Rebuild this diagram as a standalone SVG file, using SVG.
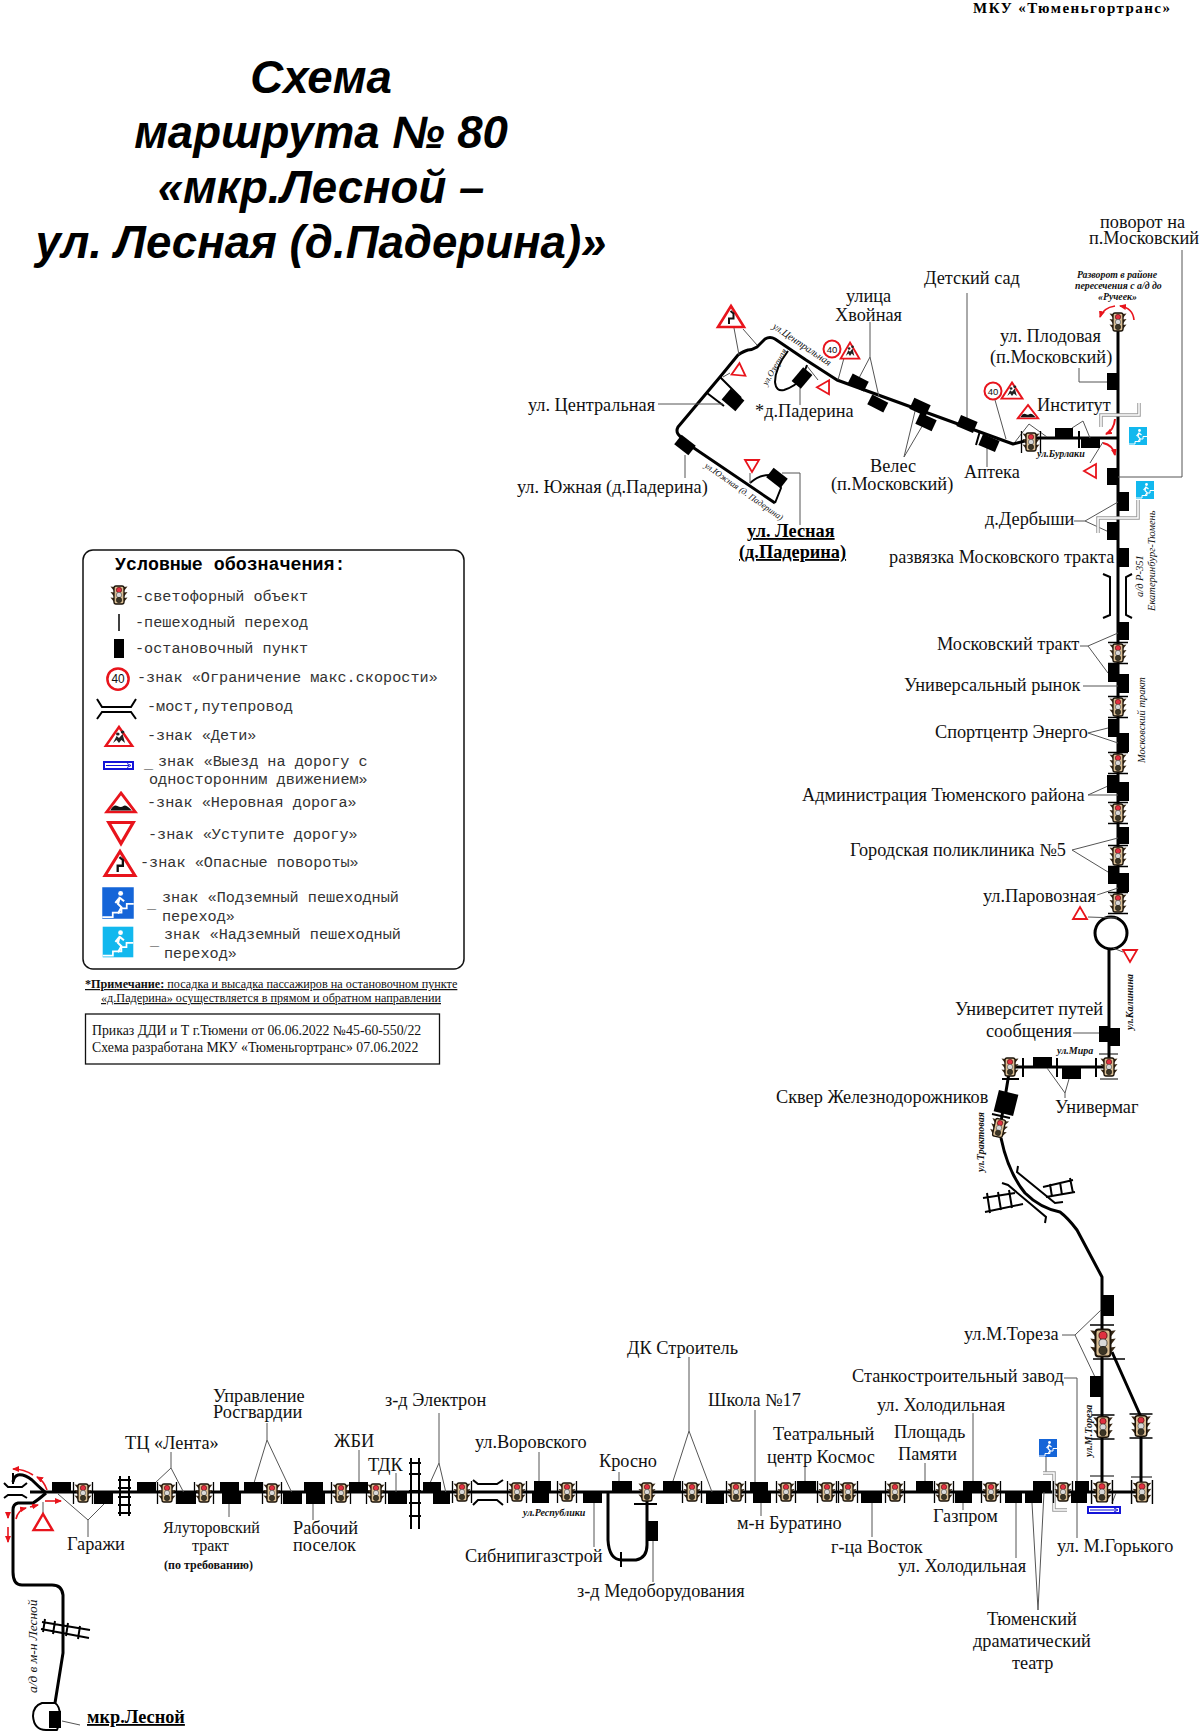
<svg xmlns="http://www.w3.org/2000/svg" xmlns:xlink="http://www.w3.org/1999/xlink" width="1200" height="1734" viewBox="0 0 1200 1734">
<style>
text{font-family:"Liberation Serif","Times New Roman",serif;font-size:18.3px;fill:#111}
.title{font-family:"Liberation Sans",Arial,sans-serif;font-size:45.6px;font-weight:bold;font-style:italic;text-anchor:middle;fill:#000}
.b{font-weight:bold;text-decoration:underline;fill:#000}
.st{font-style:italic;font-weight:bold;font-size:10px}
.tn{font-style:italic;font-weight:bold;font-size:9.8px}
.rt{font-style:italic;font-size:10px}
.rs{font-style:italic;font-size:8.8px}
.rv{font-style:italic;font-size:10.5px}
.lg{font-family:"Liberation Mono","Courier New",monospace;font-size:15.2px;fill:#333}
.lgt{font-family:"Liberation Mono","Courier New",monospace;font-size:18.3px;font-weight:bold;fill:#000}
.nt{font-size:12.2px}
.ord{font-size:13.8px}
.r{fill:none;stroke:#000;stroke-width:3;stroke-linejoin:round}
.r2{fill:none;stroke:#000;stroke-width:2;stroke-linejoin:round}
.t{fill:none;stroke:#000;stroke-width:2}
.l{fill:none;stroke:#555;stroke-width:1}
.u{fill:none;stroke:#999;stroke-width:3.5}
.ui{fill:none;stroke:#fff;stroke-width:1.5}
.ra{fill:none;stroke:#e8141c;stroke-width:1.6;marker-end:url(#ah)}
.s{fill:#000}
</style>
<defs>
<marker id="ah" markerWidth="8" markerHeight="8" refX="6" refY="3" orient="auto" markerUnits="userSpaceOnUse"><path d="M0 0L7 3L0 6z" fill="#e8141c"/></marker>
<g id="tl">
<path d="M-5-8L-8.5-8.5L-5-4zM5-8L8.5-8.5L5-4zM-5-2.5L-8.5-3L-5 1.5zM5-2.5L8.5-3L5 1.5zM-5 3L-8.5 2.5L-5 7zM5 3L8.5 2.5L5 7z" fill="#3a2a18"/>
<rect x="-5" y="-9" width="10" height="18" rx="2" fill="#d9bd92" stroke="#1a1208" stroke-width="1.3"/>
<circle cy="-5" r="2.7" fill="#e03040" stroke="#300" stroke-width=".5"/>
<circle cy="0" r="2.7" fill="#d8d8d8" stroke="#333" stroke-width=".5"/>
<circle cy="5" r="2.7" fill="#3c3524" stroke="#111" stroke-width=".5"/>
</g>
<g id="tlh"><use href="#tl"/><path d="M-9.5-11V11M9.5-11V11" stroke="#000" stroke-width="1.3"/></g>
<g id="tlv"><use href="#tl"/><path d="M-10-10.5H10M-10 10.5H10" stroke="#000" stroke-width="1.3"/></g>
<g id="y"><path d="M-7-6H7L0 6z" fill="#fff" stroke="#e8141c" stroke-width="1.8" stroke-linejoin="miter"/></g>
<g id="sp"><circle r="8.5" fill="#fff" stroke="#e8141c" stroke-width="2"/><text y="3.5" text-anchor="middle" style="font-family:'Liberation Sans',sans-serif;font-size:9.5px">40</text></g>
<g id="kids"><path d="M0-10L11 9H-11z" fill="#fff" stroke="#e8141c" stroke-width="2.2" stroke-linejoin="miter"/><path d="M-5 6L-2-1L0 1L3-3L5 6L2 3L0 6L-2 3z" fill="#222"/><circle cx="-1" cy="-3" r="1.5" fill="#222"/><circle cx="3" cy="-5" r="1.5" fill="#222"/></g>
<g id="bump"><path d="M0-10L12 9H-12z" fill="#fff" stroke="#e8141c" stroke-width="2.4"/><path d="M-9 7.500Q-6 1-3 3T2 3T9 7.500z" fill="#111"/></g>
<g id="curve"><path d="M0-11L13 10H-13z" fill="#fff" stroke="#e8141c" stroke-width="2.6"/><path d="M-2 7V1.500H2.500V-3.500L-.5-6" fill="none" stroke="#111" stroke-width="2"/></g>
<g id="ped"><rect x="-9" y="-9" width="18" height="18"/><circle cx="1.500" cy="-5.500" r="1.400" fill="#fff"/><path d="M1-3.500L0 .5L2 2.500L0 6M1-3L3.500-1M.5-2.500L-1.500 0" stroke="#fff" stroke-width="1.200" fill="none"/><path d="M-9 8H-3V5.500H2V3H5V.5H9" stroke="#fff" stroke-width="1" fill="none"/></g>
</defs>
<rect width="1200" height="1734" fill="#fff"/>

<g id="header">
<text x="973" y="13" textLength="197" style="font-weight:bold;font-size:15px;fill:#000">МКУ «Тюменьгортранс»</text>
<text class="title" x="321" y="93">Схема</text>
<text class="title" x="321" y="148">маршрута № 80</text>
<text class="title" x="321" y="203">«мкр.Лесной –</text>
<text class="title" x="321" y="258">ул. Лесная (д.Падерина)»</text>
</g>

<g id="connectors">
<g id="roads">
<path class="r" d="M1118 322V905"/>
<circle class="r" cx="1111" cy="933" r="16"/>
<path class="r" d="M1109 949V1067H1010L1000 1128"/>
<path class="r" d="M1001 1138Q1008 1172 1025 1193Q1040 1208 1060 1212Q1068 1218 1077 1230L1102 1277V1492"/>
<path class="r" d="M1112 1352L1141 1417V1492"/>
<path class="r" d="M1118 438H1037L1013 444L837 380L806 360L775 339Q770 336 765 339L757 347Q752 350 748 350Q744 351 738 355L720 377L678 427Q676 431 678 434L685 442L775 503"/>
<path class="r2" d="M775 503L781 488Q778 478 772 475Q760 474 750 483M720 377L741 398M707 393L724 406"/>
<path class="r2" d="M788 351Q775 368 775 382Q776 392 784 390Q796 386 802 378L807 365"/>
<path class="r" d="M30 1492H1142"/>
<path class="r" d="M46 1493Q38 1486 32 1480Q24 1474 18 1475Q14 1476 13 1482M46 1493Q38 1500 33 1503H18Q13 1504 13 1510V1572Q13 1585 22 1585H52Q62 1585 63 1595V1653L55 1703"/>
<path class="r2" d="M55 1703H42Q33 1706 33 1716Q34 1730 46 1730H57Q60 1722 60 1716Q60 1706 55 1703z"/>
<path class="r" d="M608 1492V1540Q609 1560 622 1560H636Q647 1558 647 1545V1500"/>
<path class="t" d="M621 1552V1567M634 1504H657"/>
<path class="t" d="M980 431L976 445M1079 431V448"/>
<path class="t" d="M1023 1058V1077M1057 1058V1077M1096 1058V1077M1002 1079H1019M992 1114L1010 1118"/>
<path class="t" d="M1103 574L1110 577V615L1103 618M1132 574L1126 577V615L1132 618"/>
<path class="t" d="M1018 1166L1017 1172L1055 1203L1063 1202M1002 1183L1008 1185L1046 1217L1045 1223"/>
<path class="t" d="M473 1480L478 1484H497L503 1480M473 1505L478 1500H497L503 1505"/>
<path class="t" d="M4 1483L8 1487H22L27 1483M4 1498L8 1495H22L27 1498M13 1473V1484"/>
<path class="t" d="M120 1476V1516M129 1476V1516M118 1480H131M118 1488H131M118 1497H131M118 1505H131M118 1513H131"/>
<path class="t" d="M411 1458V1529M419 1458V1529M409 1463H421M409 1474H421M409 1491H421M409 1503H421M409 1516H421"/>
<path class="t" d="M983 1198L1015 1193M985 1212L1023 1204M987 1193L990 1213M998 1192L1001 1210M1009 1190L1012 1208M1043 1187L1073 1180M1046 1197L1075 1192M1050 1184L1052 1197M1060 1182L1062 1195M1070 1178L1073 1193"/>
<path class="t" d="M42 1622L90 1630M41 1629L89 1638M45 1619L43 1632M55 1621L53 1634M68 1623L66 1636M80 1626L78 1639"/>
</g>
<g id="leaders">
<path class="l" d="M1182 250V477H1118M1079 368V382H1107"/>
<path class="l" d="M995 400L1006 439M1015 442L1029 424L1047 437M1083 421L1072 428M1083 421L1090 438M1090 463L1103 442"/>
<path class="l" d="M1074 521H1085L1118 502M1085 521L1109 532"/>
<path class="l" d="M1080 646H1088L1118 633M1088 646L1108 673M1083 686H1118M1088 733L1108 728M1088 733L1118 743M1088 795L1108 786M1088 795H1118M1072 850L1118 838M1072 850L1108 872M1097 895L1118 888M1088 917L1117 918M1113 948L1123 952"/>
<path class="l" d="M1073 1033H1099M1047 1068L1065 1093L1069 1079M1065 1093V1098"/>
<path class="l" d="M1062 1335H1075L1101 1310M1075 1335L1095 1377M1064 1378H1077V1538"/>
<path class="l" d="M973 1413V1482M925 1463V1482M963 1503V1510M872 1503V1537M1016 1503V1558M1032 1503L1038 1610L1044 1492M1046 1457V1472M1116 1493L1112 1503"/>
<path class="l" d="M689 1357V1431L673 1481M689 1431L712 1492M755 1410V1483M761 1503V1516M805 1467V1481M653 1541V1582M594 1503V1547M619 1472V1481M539 1452V1481"/>
<path class="l" d="M439 1413V1463L430 1483M439 1463L446 1493M396 1473V1493M359 1450V1483M313 1504V1520M267 1423V1440L254 1483M267 1440L292 1493M229 1504V1517M171 1452V1468L155 1483M171 1468L184 1493M88 1537V1520L58 1494M88 1520L104 1504M43 1502V1513M62 1721L80 1725"/>
<path class="l" d="M967 293V418M870 322V357L859 378M870 357L879 397M904 457L917 403M904 457L924 423M987 448V467M844 358L838 380M734 328L739 355M743 329L757 345M730 373L723 377M818 380L807 366M658 404H723M800 388V405M685 455V478M750 473V483M782 473H800V525"/>
<path class="u" d="M1101 427V415H1139V403"/><path class="ui" d="M1101 427V415H1139V403"/>
<path class="u" d="M1098 533V518H1138V500"/><path class="ui" d="M1098 533V518H1138V500"/>
<path class="u" d="M1043 1473H1054V1510H1067"/><path class="ui" d="M1043 1473H1054V1510H1067"/>
</g>
<g id="red-arrows">
<path class="ra" d="M1115 306Q1103 308 1100 317"/>
<path class="ra" d="M1134 320Q1133 308 1120 306"/>
<path class="ra" style="stroke-width:2" d="M1115 419Q1114 430 1106 434"/>
<path class="ra" style="stroke-width:2" d="M1103 443Q1113 445 1115 455"/>
<path class="ra" d="M33 1475Q24 1469 13 1469"/>
<path class="ra" d="M47 1490Q44 1481 37 1477"/>
<path class="ra" d="M16 1519Q18 1510 26 1508"/>
<path class="ra" d="M30 1507L38 1505"/>
<path class="ra" d="M45 1501H61"/>
<path class="ra" d="M8 1512V1518"/>
<path class="ra" d="M8 1527V1542"/>
</g>
</g>

<g id="legend">
<rect x="83" y="550" width="381" height="419" rx="10" fill="#fff" stroke="#111" stroke-width="1.5"/>
<text class="lgt" x="115" y="570">Условные обозначения:</text>
<use href="#tl" x="119" y="595"/><text class="lg" x="135" y="601">-светофорный объект</text>
<path d="M119 614V631" stroke="#000" stroke-width="1.5"/><text class="lg" x="135" y="627">-пешеходный переход</text>
<rect class="s" x="114" y="639" width="10" height="19"/><text class="lg" x="135" y="653">-остановочный пункт</text>
<use href="#sp" transform="translate(118 679) scale(1.25)"/><text class="lg" x="137" y="682">-знак «Ограничение макс.скорости»</text>
<path class="t" d="M97 699L102 707H131L136 699M97 719L102 712H131L136 719"/><text class="lg" x="147" y="711">-мост,путепровод</text>
<use href="#kids" transform="translate(119 737) scale(1.2 1)"/><text class="lg" x="147" y="740">-знак «Дети»</text>
<rect x="104" y="762" width="29" height="7" fill="#fff" stroke="#1414d8" stroke-width="2"/><path d="M106 765.5H129M127 763.5L131 765.5L127 767.5" fill="none" stroke="#1414d8"/><text class="lg" x="144" y="768">_</text><text class="lg" x="158" y="766">знак «Выезд на дорогу с</text><text class="lg" x="149" y="784">односторонним движением»</text>
<use href="#bump" transform="translate(121 803) scale(1.2 1)"/><text class="lg" x="147" y="807">-знак «Неровная дорога»</text>
<use href="#y" transform="translate(121 833) scale(1.75)"/><text class="lg" x="148" y="839">-знак «Уступите дорогу»</text>
<use href="#curve" transform="translate(120 864) scale(1.15)"/><text class="lg" x="140" y="867">-знак «Опасные повороты»</text>
<use href="#ped" fill="#1565d8" transform="translate(118 903) scale(1.75)"/><text class="lg" x="147" y="908">_</text><text class="lg" x="162" y="902">знак «Подземный пешеходный</text><text class="lg" x="162" y="921">переход»</text>
<use href="#ped" fill="#12b8ee" transform="translate(118 942) scale(1.7)"/><text class="lg" x="150" y="945">_</text><text class="lg" x="164" y="939">знак «Надземный пешеходный</text><text class="lg" x="164" y="958">переход»</text>
</g>
<g id="note">
<text class="nt" x="85" y="988" text-decoration="underline"><tspan style="font-weight:bold">*Примечание:</tspan> посадка и высадка пассажиров на остановочном пункте</text>
<text class="nt" x="101" y="1002" text-decoration="underline">«д.Падерина» осуществляется в прямом и обратном направлении</text>
</g>
<g id="order">
<rect x="85.500" y="1014" width="354" height="50" fill="#fff" stroke="#111" stroke-width="1.300"/>
<text class="ord" x="92" y="1035">Приказ ДДИ и Т г.Тюмени от 06.06.2022 №45-60-550/22</text>
<text class="ord" x="92" y="1052">Схема разработана МКУ «Тюменьгортранс» 07.06.2022</text>
</g>

<g id="street-labels">
<text class="rt" transform="translate(772 328) rotate(34)">ул.Центральная</text>
<text class="rs" transform="translate(767 386) rotate(-60)">ул.Озерная</text>
<text class="rs" transform="translate(704 467) rotate(35)">ул.Южная (д. Падерина)</text>
<text class="st" x="1037" y="457">ул.Бурлаки</text>
<text class="rv" transform="translate(1143 597) rotate(-90)">а/д Р-351</text>
<text class="rv" transform="translate(1155 611) rotate(-90)">Екатеринбург-Тюмень</text>
<text class="rv" transform="translate(1145 763) rotate(-90)">Московский тракт</text>
<text class="st" transform="translate(1133 1030) rotate(-90)">ул.Калинина</text>
<text class="st" x="1057" y="1054">ул.Мира</text>
<text class="st" transform="translate(984 1172) rotate(-90)">ул.Трактовая</text>
<text class="st" transform="translate(1092 1457) rotate(-90)">ул.М.Тореза</text>
<text class="st" x="523" y="1516">ул.Республики</text>
<text transform="translate(37 1693) rotate(-90)" style="font-style:italic;font-size:13.4px">а/д в м-н Лесной</text>
</g>

<g id="signs">
<g id="turn-note"><text class="tn" x="1077" y="278">Разворот в районе</text><text class="tn" x="1075" y="289">пересечения с а/д до</text><text class="tn" x="1098" y="300">«Ручеек»</text></g>
<use href="#curve" x="731" y="317"/>
<use href="#y" transform="translate(737 372) rotate(65)"/>
<use href="#y" transform="translate(826 389) rotate(-30)"/>
<use href="#y" x="752" y="466"/>
<use href="#sp" x="832" y="349"/>
<use href="#kids" transform="translate(850 351) scale(.85)"/>
<use href="#sp" x="993" y="391"/>
<use href="#kids" transform="translate(1012 391) scale(.95 .85)"/>
<use href="#bump" transform="translate(1028 412) scale(.85 .7)"/>
<use href="#y" transform="translate(1090 471) rotate(90)"/>
<use href="#ped" x="1138" y="436" fill="#12b8ee"/>
<use href="#ped" x="1145" y="490" fill="#12b8ee"/>
<use href="#y" transform="translate(1080 913) rotate(180)"/>
<use href="#y" x="1130" y="956"/>
<use href="#ped" x="1048" y="1448" fill="#1565d8"/>
<g id="oneway"><rect x="1088" y="1507" width="32" height="6" fill="#fff" stroke="#1414d8" stroke-width="2"/><path d="M1090 1510H1116M1114 1508L1118 1510L1114 1512" fill="none" stroke="#1414d8"/></g>
<use href="#y" transform="translate(43 1522) rotate(180) scale(1.35)"/>
</g>

<g id="traffic-lights">
<use href="#tl" x="1118" y="322"/>
<use href="#tlh" x="1031" y="442"/>
<use href="#tlv" x="1118" y="653"/><use href="#tlv" x="1118" y="707"/><use href="#tlv" x="1118" y="763"/><use href="#tlv" x="1118" y="813"/><use href="#tlv" x="1118" y="856"/><use href="#tlv" x="1118" y="903"/>
<use href="#tl" x="1109" y="1067"/><path d="M1099 1054H1118M1100 1079H1118" stroke="#000"/>
<use href="#tl" x="1010" y="1067"/>
<use href="#tl" x="999" y="1128" transform="rotate(12 999 1128)"/>
<g transform="translate(1103 1343) scale(1.5)"><use href="#tl"/></g><path d="M1090 1325H1114M1093 1359H1125" stroke="#000" stroke-width="1.500"/>
<g transform="translate(1103 1427) scale(1.15)"><use href="#tlv"/></g>
<g transform="translate(1141 1426) scale(1.15)"><use href="#tlv"/></g>
<g transform="translate(1102 1492) scale(1.1)"><use href="#tlh"/></g><path d="M1090 1476H1114" stroke="#000"/>
<g transform="translate(1142 1492) scale(1.1)"><use href="#tlh"/></g><path d="M1131 1477H1152" stroke="#000"/>
<use href="#tlh" x="83" y="1493"/><use href="#tlh" x="167" y="1493"/><use href="#tlh" x="204" y="1493"/><use href="#tlh" x="272" y="1493"/><use href="#tlh" x="341" y="1493"/><use href="#tlh" x="376" y="1493"/>
<use href="#tlh" x="462" y="1492"/><use href="#tlh" x="517" y="1492"/><use href="#tlh" x="567" y="1492"/><use href="#tl" x="647" y="1492"/><use href="#tlh" x="692" y="1492"/><use href="#tlh" x="736" y="1492"/><use href="#tlh" x="786" y="1492"/><use href="#tlh" x="827" y="1492"/><use href="#tlh" x="848" y="1492"/><use href="#tlh" x="895" y="1492"/><use href="#tlh" x="944" y="1492"/><use href="#tlh" x="991" y="1492"/><use href="#tlh" x="1063" y="1492"/>
</g>

<g id="stops-top">
<g id="s-tsentr"><rect class="s" x="724" y="393" width="18" height="14" transform="rotate(40 733 400)"/><text x="528" y="411">ул. Центральная</text></g>
<g id="s-yuzhn"><rect class="s" x="676" y="439" width="18" height="12" transform="rotate(38 685 445)"/><text x="517" y="493">ул. Южная (д.Падерина)</text></g>
<g id="s-lesn"><rect class="s" x="768" y="472" width="18" height="12" transform="rotate(38 777 478)"/><text class="b" x="747" y="537">ул. Лесная</text><text class="b" x="739" y="558">(д.Падерина)</text></g>
<g id="s-pad"><rect class="s" x="793" y="372" width="18" height="12" transform="rotate(-50 802 378)"/><text x="755" y="417">*д.Падерина</text></g>
<g id="s-hvoi"><rect class="s" x="849" y="377" width="18" height="11" transform="rotate(27 858 383)"/><rect class="s" x="869" y="398" width="18" height="11" transform="rotate(27 878 403)"/><text x="846" y="302">улица</text><text x="835" y="321">Хвойная</text></g>
<g id="s-veles"><rect class="s" x="911" y="401" width="18" height="12" transform="rotate(25 920 407)"/><rect class="s" x="917" y="416" width="18" height="12" transform="rotate(25 926 422)"/><text x="870" y="472">Велес</text><text x="831" y="490">(п.Московский)</text></g>
<g id="s-ds"><rect class="s" x="958" y="418" width="18" height="12" transform="rotate(23 967 424)"/><text x="924" y="284">Детский сад</text></g>
<g id="s-apt"><rect class="s" x="980" y="437" width="18" height="12" transform="rotate(23 989 443)"/><text x="964" y="478">Аптека</text></g>
<g id="s-inst"><rect class="s" x="1055" y="428" width="18" height="10"/><rect class="s" x="1081" y="438" width="19" height="10"/><text x="1037" y="411">Институт</text></g>
<g id="s-plod"><rect class="s" x="1107" y="373" width="11" height="17"/><text x="1000" y="342">ул. Плодовая</text><text x="990" y="363">(п.Московский)</text></g>
<g id="s-povorot"><rect class="s" x="1107" y="468" width="11" height="17"/><text x="1100" y="228">поворот на</text><text x="1089" y="244">п.Московский</text></g>
<g id="s-derb"><rect class="s" x="1118" y="492" width="11" height="19"/><rect class="s" x="1107" y="522" width="11" height="18"/><text x="985" y="525">д.Дербыши</text></g>
<g id="s-razv"><rect class="s" x="1118" y="548" width="11" height="19"/><text x="889" y="563">развязка Московского тракта</text></g>
<g id="s-mt"><rect class="s" x="1118" y="622" width="11" height="18"/><rect class="s" x="1108" y="663" width="10" height="19"/><text x="937" y="650">Московский тракт</text></g>
<g id="s-ur"><rect class="s" x="1118" y="674" width="11" height="19"/><text x="904" y="691">Универсальный рынок</text></g>
<g id="s-sport"><rect class="s" x="1108" y="719" width="10" height="18"/><rect class="s" x="1118" y="733" width="11" height="19"/><text x="935" y="738">Спортцентр Энерго</text></g>
<g id="s-adm"><rect class="s" x="1107" y="775" width="11" height="18"/><rect class="s" x="1118" y="782" width="11" height="19"/><text x="802" y="801">Администрация Тюменского района</text></g>
<g id="s-gp"><rect class="s" x="1118" y="827" width="11" height="17"/><rect class="s" x="1108" y="866" width="10" height="18"/><text x="850" y="856">Городская поликлиника №5</text></g>
<g id="s-parov"><rect class="s" x="1118" y="873" width="11" height="19"/><text x="983" y="902">ул.Паровозная</text></g>
<g id="s-uni"><rect class="s" x="1099" y="1026" width="10" height="16"/><rect class="s" x="1109" y="1028" width="11" height="18"/><text x="955" y="1015">Университет путей</text><text x="986" y="1037">сообщения</text></g>
<g id="s-univ"><rect class="s" x="1033" y="1057" width="19" height="10"/><rect class="s" x="1062" y="1067" width="19" height="12"/><text x="1055" y="1113">Универмаг</text></g>
<g id="s-skver"><rect class="s" x="996" y="1092" width="20" height="22" transform="rotate(14 1006 1103)"/><text x="776" y="1103">Сквер Железнодорожников</text></g>
<g id="s-tor"><rect class="s" x="1102" y="1295" width="12" height="21"/><text x="964" y="1340">ул.М.Тореза</text></g>
<g id="s-stank"><rect class="s" x="1090" y="1376" width="13" height="21"/><text x="852" y="1382">Станкостроительный завод</text></g>
</g>

<g id="stops-bottom">
<g id="s-gorky"><rect class="s" x="1075" y="1481" width="14" height="11"/><rect class="s" x="1071" y="1492" width="16" height="11"/><text x="1057" y="1552">ул. М.Горького</text></g>
<g id="s-drama"><rect class="s" x="1033" y="1481" width="18" height="11"/><rect class="s" x="1025" y="1492" width="17" height="11"/><text x="987" y="1625">Тюменский</text><text x="973" y="1647">драматический</text><text x="1012" y="1669">театр</text></g>
<g id="s-hol2"><rect class="s" x="1005" y="1492" width="17" height="11"/><text x="898" y="1572">ул. Холодильная</text></g>
<g id="s-hol1"><rect class="s" x="963" y="1481" width="18" height="11"/><text x="877" y="1411">ул. Холодильная</text></g>
<g id="s-gazp"><rect class="s" x="955" y="1492" width="17" height="11"/><text x="933" y="1522">Газпром</text></g>
<g id="s-pl"><rect class="s" x="916" y="1481" width="17" height="11"/><text x="894" y="1438">Площадь</text><text x="898" y="1460">Памяти</text></g>
<g id="s-vost"><rect class="s" x="861" y="1492" width="21" height="11"/><text x="831" y="1553">г-ца Восток</text></g>
<g id="s-teatr"><rect class="s" x="797" y="1481" width="19" height="11"/><text x="773" y="1440">Театральный</text><text x="767" y="1463">центр Космос</text></g>
<g id="s-bur"><rect class="s" x="753" y="1492" width="18" height="11"/><text x="737" y="1529">м-н Буратино</text></g>
<g id="s-sh"><rect class="s" x="750" y="1482" width="18" height="10"/><text x="708" y="1406">Школа №17</text></g>
<g id="s-dk"><rect class="s" x="663" y="1481" width="18" height="11"/><rect class="s" x="706" y="1492" width="18" height="12"/><text x="627" y="1354">ДК Строитель</text></g>
<g id="s-med"><rect class="s" x="647" y="1521" width="11" height="20"/><text x="577" y="1597">з-д Медоборудования</text></g>
<g id="s-kros"><rect class="s" x="612" y="1481" width="20" height="11"/><text x="599" y="1467">Кросно</text></g>
<g id="s-sib"><rect class="s" x="583" y="1492" width="19" height="11"/><text x="465" y="1562">Сибнипигазстрой</text></g>
<g id="s-vor"><rect class="s" x="534" y="1481" width="17" height="11"/><rect class="s" x="532" y="1492" width="17" height="11"/><text x="475" y="1448">ул.Воровского</text></g>
<g id="s-el"><rect class="s" x="423" y="1482" width="18" height="10"/><rect class="s" x="433" y="1492" width="17" height="12"/><text x="385" y="1406">з-д Электрон</text></g>
<g id="s-tdk"><rect class="s" x="388" y="1492" width="19" height="12"/><text x="368" y="1471">ТДК</text></g>
<g id="s-zhbi"><rect class="s" x="349" y="1482" width="19" height="10"/><text x="334" y="1447">ЖБИ</text></g>
<g id="s-rab"><rect class="s" x="304" y="1482" width="19" height="10"/><rect class="s" x="306" y="1492" width="19" height="12"/><text x="293" y="1534">Рабочий</text><text x="293" y="1551">поселок</text></g>
<g id="s-ros"><rect class="s" x="244" y="1482" width="19" height="10"/><rect class="s" x="283" y="1492" width="19" height="12"/><text x="213" y="1402">Управление</text><text x="213" y="1418">Росгвардии</text></g>
<g id="s-yal"><rect class="s" x="220" y="1482" width="19" height="10"/><rect class="s" x="222" y="1492" width="19" height="12"/><text x="163" y="1533" style="font-size:16px">Ялуторовский</text><text x="192" y="1551" style="font-size:16px">тракт</text><text x="164" y="1569" style="font-size:12px;font-weight:bold">(по требованию)</text></g>
<g id="s-lent"><rect class="s" x="137" y="1482" width="19" height="10"/><rect class="s" x="177" y="1492" width="19" height="12"/><text x="125" y="1449">ТЦ «Лента»</text></g>
<g id="s-gar"><rect class="s" x="52" y="1482" width="19" height="10"/><rect class="s" x="94" y="1492" width="19" height="12"/><text x="67" y="1550">Гаражи</text></g>
<g id="s-mkr"><rect class="s" x="49" y="1711" width="12" height="17"/><text class="b" x="87" y="1723">мкр.Лесной</text></g>
</g>
</svg>
